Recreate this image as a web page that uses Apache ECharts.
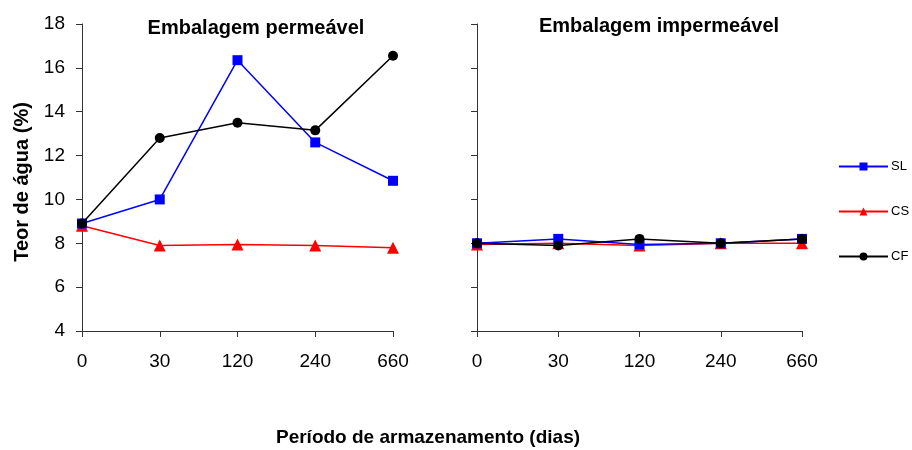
<!DOCTYPE html>
<html><head><meta charset="utf-8">
<script src="https://cdn.jsdelivr.net/npm/echarts@6/dist/echarts.min.js"></script>
<style>html,body{margin:0;padding:0;background:#fff}#c{width:912px;height:450px}</style>
</head><body><div id="c"></div>
<script>
const categories = ['0', '30', '120', '240', '660'];
const titles = ['Embalagem permeável', 'Embalagem impermeável'];
const seriesNames = ['SL', 'CS', 'CF'];
// Embalagem permeável
const permSL = [8.9, 10.0, 16.35, 12.6, 10.85];
const permCS = [8.8, 7.9, 7.95, 7.9, 7.8];
const permCF = [8.9, 12.8, 13.5, 13.15, 16.55];
// Embalagem impermeável
const impSL = [8.0, 8.2, 7.95, 8.0, 8.2];
const impCS = [7.95, 8.0, 7.9, 8.0, 8.0];
const impCF = [8.0, 7.9, 8.2, 8.0, 8.2];
const yTicks = {min: 4, max: 18, interval: 2};

const colors = ['#0000ff', '#ff0000', '#000000'];
const symbols = ['rect', 'triangle', 'circle'];
const symSizes = [10, 12, 10];
const font = 'Liberation Sans, Arial, sans-serif';
const axisColor = '#333';

const chart = echarts.init(document.getElementById('c'));
function mkX(idx) {
  return {
    type: 'category', gridIndex: idx, data: categories, boundaryGap: false,
    axisLine: {lineStyle: {color: axisColor, width: 1}},
    axisTick: {show: true, length: 6, lineStyle: {color: axisColor}},
    axisLabel: {color: '#000', fontSize: 19, fontFamily: font, margin: 21},
    splitLine: {show: false}
  };
}
function mkY(idx, showLabels) {
  return {
    type: 'value', gridIndex: idx, min: yTicks.min, max: yTicks.max, interval: yTicks.interval,
    axisLine: {show: true, lineStyle: {color: axisColor, width: 1}},
    axisTick: {show: true, length: 6, lineStyle: {color: axisColor}},
    axisLabel: {show: showLabels, color: '#000', fontSize: 19, fontFamily: font, margin: 17},
    splitLine: {show: false}
  };
}
const datasets = [[permSL, permCS, permCF], [impSL, impCS, impCF]];
const series = [];
datasets.forEach((ds, g) => {
  ds.forEach((d, i) => {
    series.push({
      name: seriesNames[i], type: 'line', xAxisIndex: g, yAxisIndex: g, data: d,
      symbol: symbols[i], symbolSize: symSizes[i],
      lineStyle: {color: colors[i], width: 1.5},
      itemStyle: {color: colors[i]},
      z: i === 2 ? 5 : (i === 0 ? 4 : 3),
      animation: false
    });
  });
});
chart.setOption({
  animation: false,
  backgroundColor: '#fff',
  title: [
    {text: titles[0], left: 251, top: 13, textAlign: 'center', textStyle: {fontSize: 20, fontWeight: 'bold', color: '#000', fontFamily: font}},
    {text: titles[1], left: 654, top: 11, textAlign: 'center', textStyle: {fontSize: 20, fontWeight: 'bold', color: '#000', fontFamily: font}},
    {text: 'Período de armazenamento (dias)', left: 423, top: 423, textAlign: 'center', textStyle: {fontSize: 19, fontWeight: 'bold', color: '#000', fontFamily: font}}
  ],
  graphic: [{
    type: 'text', x: 22, y: 182, rotation: Math.PI / 2,
    style: {text: 'Teor de água (%)', fill: '#000', font: 'bold 20px ' + font, align: 'center', verticalAlign: 'middle'}
  }],
  legend: {
    orient: 'vertical', left: 838, top: 160, padding: 0, itemWidth: 49, itemHeight: 10, itemGap: 32,
    data: seriesNames,
    textStyle: {color: '#000', fontSize: 13, fontFamily: font, padding: [0, 0, 0, -2]}
  },
  grid: [
    {left: 82, width: 311, top: 24, height: 307},
    {left: 477, width: 325, top: 24, height: 307}
  ],
  xAxis: [mkX(0), mkX(1)],
  yAxis: [mkY(0, true), mkY(1, false)],
  series: series
});
</script></body></html>
